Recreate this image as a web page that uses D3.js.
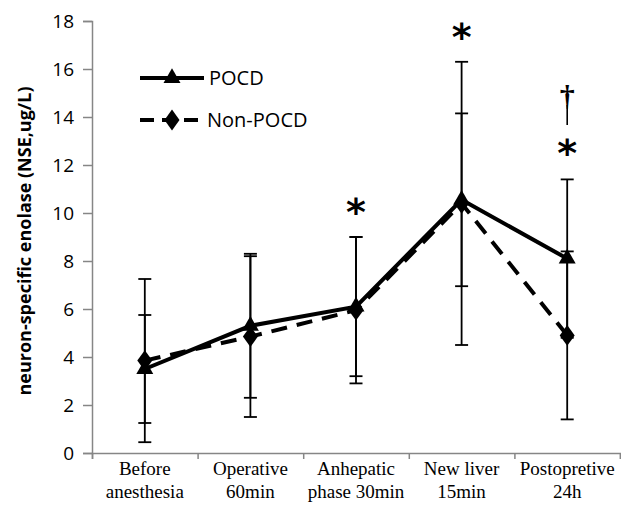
<!DOCTYPE html>
<html><head><meta charset="utf-8">
<script src="https://cdn.jsdelivr.net/npm/d3@7"></script>
<style>body{margin:0;background:#fff}svg{display:block}</style>
</head><body>
<script>
const categories = [["Before","anesthesia"],["Operative","60min"],["Anhepatic","phase 30min"],["New liver","15min"],["Postopretive","24h"]];
const pocdMean = [3.5, 5.3, 6.1, 10.55, 8.1];
const pocdSD   = [2.25, 3.0, 2.9, 3.6, 3.3];
const nonMean  = [3.85, 4.85, 5.95, 10.4, 4.9];
const nonSD    = [3.4, 3.35, 3.05, 5.9, 3.5];
const yTicks = [0,2,4,6,8,10,12,14,16,18];
const seriesNames = ["POCD","Non-POCD"];
const annotations = [{cat:2, value:10.3, text:"*"},{cat:3, value:17.6, text:"*"},{cat:4, value:12.75, text:"*"},{cat:4, value:14.75, text:"†"}];

(function(){
const W=621,H=506;
const svg=d3.select("body").append("svg").attr("width",W).attr("height",H);
const mLeft=92,mRight=620,mTop=21,mBottom=453;
const x=d3.scaleBand().domain(d3.range(categories.length)).range([mLeft,mRight]).padding(0);
const xb=d3.scaleLinear().domain([0,categories.length]).range([mLeft,mRight]);
const y=d3.scaleLinear().domain([0,18]).range([mBottom,mTop]);
const cx=i=>x(i)+x.bandwidth()/2;
const axisColor="#868686";

// y axis
const ya=svg.append("g").attr("transform",`translate(${mLeft},0)`)
  .call(d3.axisLeft(y).tickValues(yTicks).tickSize(9).tickPadding(9));
ya.select(".domain").attr("stroke",axisColor).attr("stroke-width",1.5);
ya.selectAll(".tick line").attr("stroke",axisColor).attr("stroke-width",1.5);
ya.selectAll(".tick text").attr("font-family","'Open Sans', sans-serif").attr("font-size",19).attr("fill","#000");

// x axis
const xa=svg.append("g").attr("transform",`translate(0,${mBottom})`)
  .call(d3.axisBottom(xb).tickValues(d3.range(categories.length+1)).tickSize(6).tickFormat(""));
xa.select(".domain").attr("stroke",axisColor).attr("stroke-width",1.5);
xa.selectAll(".tick line").attr("stroke",axisColor).attr("stroke-width",1.5);
const xl=svg.append("g");
categories.forEach((c,i)=>{
  const t=xl.append("text").attr("x",cx(i)).attr("y",475).attr("text-anchor","middle")
    .attr("font-family","'Liberation Serif', 'Times New Roman', serif").attr("font-size",19).attr("fill","#000");
  c.forEach((s,j)=>t.append("tspan").attr("x",cx(i)).attr("dy",j?23:0).text(s));
});

// y title
svg.append("text").attr("transform",`translate(31,241) rotate(-90)`).attr("text-anchor","middle")
  .attr("font-family","'Open Sans', sans-serif").attr("font-weight","bold").attr("font-size",18).attr("fill","#000")
  .text("neuron-specific enolase (NSE,ug/L)");

// error bars
function errBars(mean,sd){
  const g=svg.append("g").attr("stroke","#000").attr("stroke-width",1.8);
  mean.forEach((m,i)=>{
    const x0=cx(i), hi=y(m+sd[i]), lo=y(m-sd[i]);
    g.append("line").attr("x1",x0).attr("x2",x0).attr("y1",hi).attr("y2",lo);
    [hi,lo].forEach(v=>g.append("line").attr("x1",x0-6.5).attr("x2",x0+6.5).attr("y1",v).attr("y2",v));
  });
}
errBars(pocdMean,pocdSD);
errBars(nonMean,nonSD);

const line=d3.line().x((d,i)=>cx(i)).y(d=>y(d));
svg.append("path").datum(nonMean).attr("d",line).attr("fill","none").attr("stroke","#000")
  .attr("stroke-width",4).attr("stroke-dasharray","16,10");
svg.append("path").datum(pocdMean).attr("d",line).attr("fill","none").attr("stroke","#000").attr("stroke-width",4);

const tri=d3.symbol().type(d3.symbolTriangle).size(125);
const dia=d3.symbol().type(d3.symbolDiamond).size(125);
svg.append("g").selectAll("path").data(nonMean).join("path")
  .attr("transform",(d,i)=>`translate(${cx(i)},${y(d)}) scale(1.25,1)`).attr("d",dia()).attr("fill","#000");
svg.append("g").selectAll("path").data(pocdMean).join("path")
  .attr("transform",(d,i)=>`translate(${cx(i)},${y(d)})`).attr("d",tri()).attr("fill","#000");

// annotations
annotations.forEach(a=>{
  if(a.text==="*"){
    svg.append("text").attr("x",cx(a.cat)).attr("y",y(a.value)+19).attr("text-anchor","middle")
      .attr("font-family","'DejaVu Sans', sans-serif").attr("font-weight","bold").attr("font-size",38).text(a.text);
  } else {
    svg.append("text").attr("x",cx(a.cat)).attr("y",y(a.value)+7).attr("text-anchor","middle")
      .attr("font-family","'Liberation Serif', serif").attr("font-weight","bold").attr("font-size",30).text(a.text);
    svg.append("line").attr("x1",cx(a.cat)).attr("x2",cx(a.cat)).attr("y1",y(a.value)+6).attr("y2",y(a.value)+26)
      .attr("stroke","#000").attr("stroke-width",1.6);
  }
});

// legend
const lg=svg.append("g");
[0,1].forEach(k=>{
  const ly=78+k*42;
  lg.append("line").attr("x1",140).attr("x2",204).attr("y1",ly).attr("y2",ly).attr("stroke","#000").attr("stroke-width",4)
    .attr("stroke-dasharray",k?"14,8":null);
  lg.append("path").attr("transform",`translate(172,${ly})${k?" scale(1.25,1)":""}`).attr("d",(k?dia:tri)()).attr("fill","#000");
  lg.append("text").attr("x",k?207:209).attr("y",ly+7).attr("font-family","'Open Sans', sans-serif").attr("font-size",20)
    .attr("fill","#000").text(seriesNames[k]);
});
})();
</script>
</body></html>
